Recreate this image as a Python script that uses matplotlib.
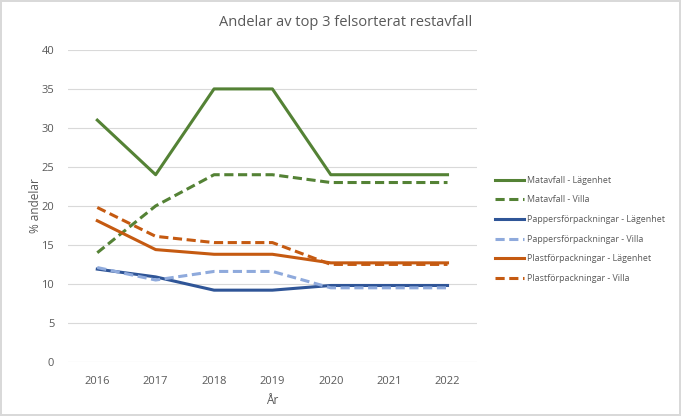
import matplotlib
matplotlib.use('Agg')
import matplotlib.pyplot as plt

# Data
years = [2016, 2017, 2018, 2019, 2020, 2021, 2022]
mat_lgh = [31, 24, 35, 35, 24, 24, 24]
mat_villa = [14, 20, 24, 24, 23, 23, 23]
papp_lgh = [11.9, 10.9, 9.2, 9.2, 9.8, 9.8, 9.8]
papp_villa = [12.1, 10.5, 11.6, 11.6, 9.5, 9.5, 9.5]
plast_lgh = [18.1, 14.4, 13.8, 13.8, 12.7, 12.7, 12.7]
plast_villa = [19.8, 16.1, 15.3, 15.3, 12.5, 12.5, 12.5]

plt.rcParams['font.family'] = ['Open Sans', 'DejaVu Sans']
grey = '#595959'

fig = plt.figure(figsize=(6.81, 4.16), dpi=100)
fig.patch.set_edgecolor('#d9d9d9')
fig.patch.set_linewidth(1.5)
ax = fig.add_axes([0.1, 0.13, 0.60, 0.75])

x = list(range(len(years)))
ax.plot(x, mat_lgh, color='#548235', lw=2.2, label='Matavfall - Lägenhet')
ax.plot(x, mat_villa, color='#548235', lw=2.2, ls=(0, (3, 1.5)), label='Matavfall - Villa')
ax.plot(x, papp_lgh, color='#2F5597', lw=2.2, label='Pappersförpackningar - Lägenhet')
ax.plot(x, papp_villa, color='#8FAADC', lw=2.2, ls=(0, (3, 1.5)), label='Pappersförpackningar - Villa')
ax.plot(x, plast_lgh, color='#C55A11', lw=2.2, label='Plastförpackningar - Lägenhet')
ax.plot(x, plast_villa, color='#C55A11', lw=2.2, ls=(0, (3, 1.5)), label='Plastförpackningar - Villa')

ax.set_xlim(-0.5, 6.5)
ax.set_ylim(0, 40)
ax.set_yticks(range(0, 41, 5))
ax.set_xticks(x)
ax.set_xticklabels([str(y) for y in years])
ax.grid(axis='y', color='#d9d9d9', lw=0.8)
ax.set_axisbelow(True)
for s in ax.spines.values():
    s.set_visible(False)
ax.tick_params(length=0, colors=grey, labelsize=8)
ax.tick_params(axis='x', pad=10)
ax.tick_params(axis='y', pad=10)

fig.text(0.508, 0.945, 'Andelar av top 3 felsorterat restavfall', color=grey,
         fontsize=10.5, ha='center', va='center')
ax.set_xlabel('År', color=grey, fontsize=8.5, labelpad=5)
ax.set_ylabel('% andelar', color=grey, fontsize=8.5)
ax.yaxis.set_label_coords(-0.064, 0.5)

ax.legend(loc='center left', bbox_to_anchor=(1.025, 0.425), frameon=False,
          fontsize=6.4, labelcolor=grey, handlelength=3.3, labelspacing=1.2,
          handletextpad=0.3)

fig.savefig('out.png', dpi=100)
